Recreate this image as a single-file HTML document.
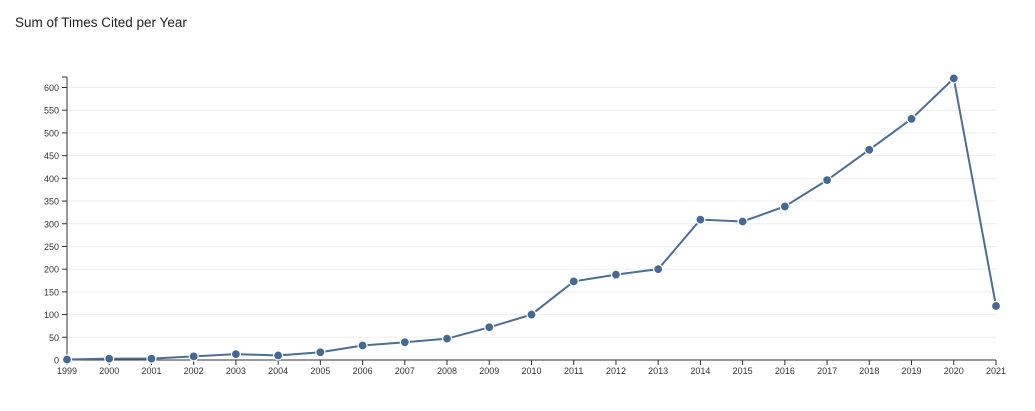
<!DOCTYPE html>
<html><head><meta charset="utf-8"><style>
body{margin:0;background:#fff;width:1035px;height:406px;overflow:hidden;font-family:"Liberation Sans",sans-serif}
</style></head><body>
<svg id="s" width="1035" height="406" xmlns="http://www.w3.org/2000/svg">
<text x="15" y="27" font-size="13.5" fill="#222" font-family="Liberation Sans, sans-serif">Sum of Times Cited per Year</text>
</svg>
<script>
var s=document.getElementById('s'),NS='http://www.w3.org/2000/svg';
function el(t,a,txt){var e=document.createElementNS(NS,t);for(var k in a)e.setAttribute(k,a[k]);if(txt!=null)e.textContent=txt;s.appendChild(e);return e;}
var x0=67,x1=996,y0=360,k=(360-87.5)/600;
var vals=[1,3,3,8,13,10,17,32,39,47,72,100,173,188,200,309,305,338,396,463,531,620,119];
function X(i){return x0+(x1-x0)*i/22}function Y(v){return y0-v*k}
for(var v=0;v<=600;v+=50){var y=Y(v);
 if(v>0)el('line',{x1:x0,x2:x1,y1:y,y2:y,stroke:'#eee','stroke-width':1});
 el('line',{x1:x0-5,x2:x0,y1:y,y2:y,stroke:'#333'});
 el('text',{x:x0-8,y:y+3.5,'font-size':9,'text-anchor':'end',fill:'#333'},v);}
el('line',{x1:x0,x2:x0,y1:77,y2:y0,stroke:'#333'});
el('line',{x1:x0-5,x2:x0,y1:77,y2:77,stroke:'#333'});
el('line',{x1:x0,x2:x1,y1:y0,y2:y0,stroke:'#333'});
for(var i=0;i<=22;i++){var x=X(i);
 el('line',{x1:x,x2:x,y1:y0,y2:y0+5,stroke:'#333'});
 el('text',{x:x,y:y0+14,'font-size':9,'text-anchor':'middle',fill:'#333'},1999+i);}
el('polyline',{points:vals.map(function(v,i){return X(i)+','+Y(v)}).join(' '),fill:'none',stroke:'#4a6f96','stroke-width':2});
vals.forEach(function(v,i){el('circle',{cx:X(i),cy:Y(v),r:4.5,fill:'#426a94',stroke:'#fff','stroke-width':1.2});});
</script>
</body></html>
